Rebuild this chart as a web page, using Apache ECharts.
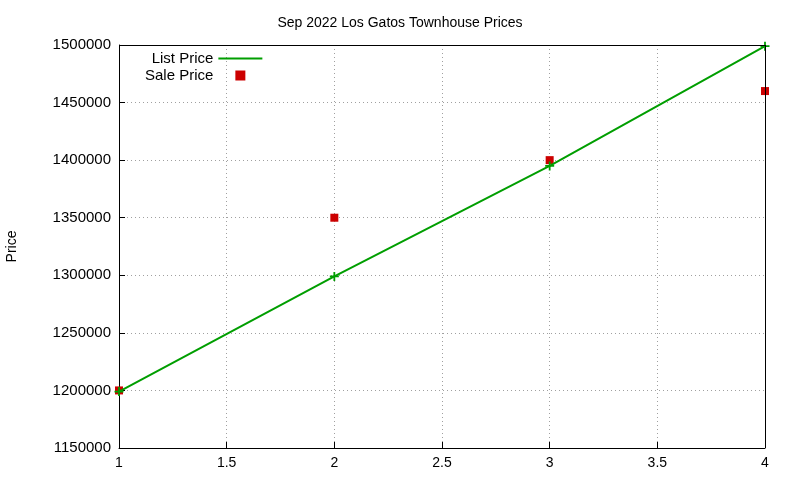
<!DOCTYPE html>
<html>
<head>
<meta charset="utf-8">
<script src="https://cdn.jsdelivr.net/npm/echarts@6/dist/echarts.min.js"></script>
<style>html,body{margin:0;padding:0;background:#fff}</style>
</head>
<body>
<div id="chart" style="width:800px;height:480px"></div>
<script>
const xValues = [1, 2, 3, 4];
const listPrice = [1199000, 1299000, 1395000, 1499000];
const salePrice = [1200000, 1350000, 1400000, 1460000];

const chart = echarts.init(document.getElementById('chart'));
const font = 'Liberation Sans, Arial, sans-serif';
const axisLine = {show: true, lineStyle: {color: '#000', width: 1}};
const split = {show: true, lineStyle: {color: '#a0a0a0', type: [1, 3], width: 1}};

chart.setOption({
    animation: false,
    title: {
        text: 'Sep 2022 Los Gatos Townhouse Prices',
        left: 'center', top: 11,
        textStyle: {fontFamily: font, fontSize: 14, fontWeight: 'normal', color: '#000'}
    },
    legend: {
        left: 140, top: 46, orient: 'vertical', align: 'right',
        itemGap: 2, itemWidth: 44, itemHeight: 10,
        textStyle: {fontFamily: font, fontSize: 15, color: '#000'},
        data: [
            {name: 'List Price', icon: 'path://M0,4 L44,4 L44,6 L0,6 Z', itemStyle: {color: '#009e00'}},
            {name: 'Sale Price', icon: 'path://M18,1 L26,1 L26,9 L18,9 Z', itemStyle: {color: '#cc0000'}}
        ]
    },
    grid: {left: 119, right: 35, top: 45, bottom: 32, outerBoundsMode: 'none'},
    xAxis: {
        type: 'value', min: 1, max: 4, interval: 0.5,
        axisLine: axisLine, axisTick: {inside: true, length: 6, lineStyle: {color: '#000'}},
        axisLabel: {fontFamily: font, fontSize: 14, color: '#000', margin: 8},
        splitLine: split
    },
    yAxis: {
        type: 'value', min: 1150000, max: 1500000, interval: 50000,
        name: 'Price', nameLocation: 'middle', nameGap: 100,
        nameTextStyle: {fontFamily: font, fontSize: 14, color: '#000'},
        axisLine: axisLine, axisTick: {inside: true, length: 6, lineStyle: {color: '#000'}},
        axisLabel: {fontFamily: font, fontSize: 15, color: '#000', margin: 8, formatter: v => String(v)},
        splitLine: split
    },
    series: [
        {
            name: 'List Price', type: 'line',
            data: xValues.map((x, i) => [x, listPrice[i]]),
            symbol: 'path://M4,0 L6,0 L6,4 L10,4 L10,6 L6,6 L6,10 L4,10 L4,6 L0,6 L0,4 L4,4 Z',
            symbolSize: 9,
            lineStyle: {color: '#009e00', width: 2},
            itemStyle: {color: '#009e00'}
        },
        {
            name: 'Sale Price', type: 'scatter',
            data: xValues.map((x, i) => [x, salePrice[i]]),
            symbol: 'rect', symbolSize: 8,
            itemStyle: {color: '#cc0000', opacity: 1}
        },
        {
            type: 'line', data: [], silent: true,
            markLine: {
                silent: true, symbol: 'none', label: {show: false},
                lineStyle: {color: '#000', type: 'solid', width: 1},
                data: [{yAxis: 1500000}, {xAxis: 4}]
            }
        }
    ]
});
</script>
</body>
</html>
